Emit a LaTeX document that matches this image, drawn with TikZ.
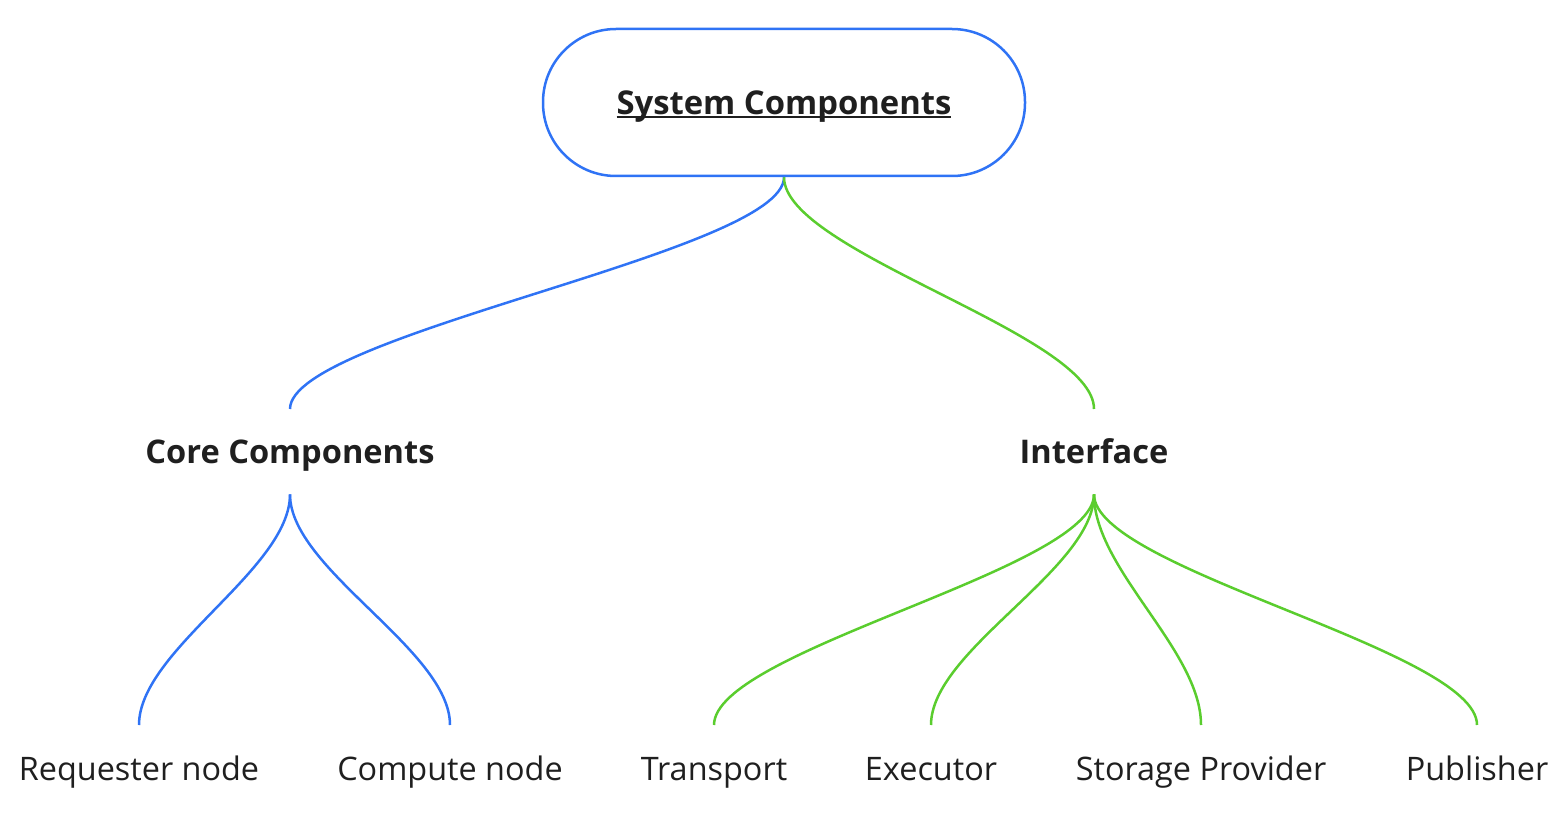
\documentclass[tikz,border=0pt]{standalone}
\usepackage{fontspec}
\setmainfont{Open Sans}
\definecolor{cblue}{HTML}{2F73F5}
\definecolor{cgreen}{HTML}{5ACD2E}
\definecolor{ctext}{HTML}{1F1F1F}
\newsavebox\myulbox
\newcommand{\myul}[1]{\sbox\myulbox{#1}\rlap{\rule[-3.5pt]{\wd\myulbox}{2pt}}\usebox\myulbox}
\tikzset{
  rootbox/.style={draw=cblue,line width=2.5pt,rounded corners=73pt,minimum width=482pt,minimum height=147pt,inner sep=0pt,text height=33pt,text depth=8pt,text=ctext,font=\fontsize{32.8}{40}\selectfont\bfseries},
  midbox/.style={anchor=north,inner sep=0pt,text height=54pt,text depth=31pt,text=ctext,font=\fontsize{32.6}{39}\selectfont\bfseries},
  leafbox/.style={anchor=north,inner sep=0pt,text height=55pt,text depth=10pt,text=ctext,font=\fontsize{32.4}{39}\selectfont},
  bedge/.style={draw=cblue,line width=2.5pt},
  gedge/.style={draw=cgreen,line width=2.5pt},
}
\newcommand{\conn}[3]{\draw[#1] (#2.south) .. controls +(0,-75pt) and +(0,75pt) .. (#3.north);}
\begin{document}
\begin{tikzpicture}[x=1pt,y=-1pt]
\useasboundingbox (0,0) rectangle (1562,813);
\node[rootbox] (root) at (784,102.5) {\myul{System Components}};
\node[midbox] (core) at (290,409) {Core Components};
\node[midbox] (intf) at (1094,409) {Interface};
\node[leafbox] (req) at (139,725) {Requester node};
\node[leafbox] (comp) at (450,725) {Compute node};
\node[leafbox] (trans) at (714,725) {Transport};
\node[leafbox] (exec) at (931,725) {Executor};
\node[leafbox] (stor) at (1201,725) {Storage Provider};
\node[leafbox] (pub) at (1477,725) {Publisher};
\conn{bedge}{root}{core}
\conn{gedge}{root}{intf}
\conn{bedge}{core}{req}
\conn{bedge}{core}{comp}
\conn{gedge}{intf}{trans}
\conn{gedge}{intf}{exec}
\conn{gedge}{intf}{stor}
\conn{gedge}{intf}{pub}
\end{tikzpicture}
\end{document}
